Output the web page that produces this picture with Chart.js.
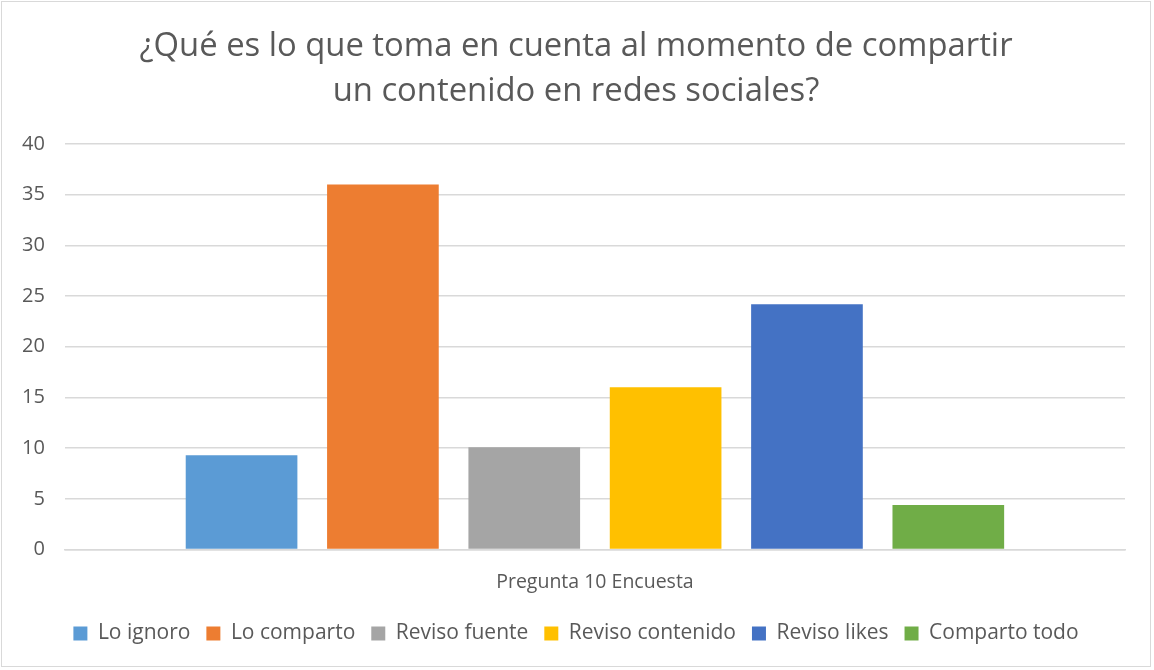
<!DOCTYPE html>
<html lang="es">
<head>
    <meta charset="UTF-8">
    <title>Pregunta 10 Encuesta</title>
    <script src="https://cdn.jsdelivr.net/npm/chart.js"></script>
<style>
    html, body {
        margin: 0;
        padding: 0;
        background: #ffffff;
    }
    /* marco gris alrededor del grafico */
    .frame {
        position: absolute;
        left: 1px;
        top: 1px;
        width: 1150px;
        height: 666px;
        border: 1px solid #d9d9d9;
        box-sizing: border-box;
    }
    .frame canvas {
        position: absolute;
        left: 0;
        top: 0;
    }
</style>
</head>
<body>
<div class="frame">
    <canvas id="myChart" width="1148" height="664"></canvas>
</div>

<script>
// datos
const categorias = ['Pregunta 10 Encuesta'];
const series = ['Lo ignoro', 'Lo comparto', 'Reviso fuente', 'Reviso contenido', 'Reviso likes', 'Comparto todo'];
const valores = [9.3, 36, 10.1, 16, 24.2, 4.4];
const colores = ['#5b9bd5', '#ed7d31', '#a5a5a5', '#ffc000', '#4472c4', '#70ad47'];
const titulo = ['¿Qué es lo que toma en cuenta al momento de compartir', 'un contenido en redes sociales?'];

const fuente = "'Open Sans', sans-serif";
const gris = '#595959';

const datasets = series.map((nombre, i) => ({
    label: nombre,
    data: [valores[i]],
    backgroundColor: colores[i],
    borderWidth: 0,
    categoryPercentage: 0.8,
    barPercentage: 0.79
}));

const ctx = document.getElementById('myChart').getContext('2d');
new Chart(ctx, {
    type: 'bar',
    data: {
        labels: categorias,
        datasets: datasets
    },
    options: {
        responsive: false,
        animation: false,
        layout: {
            padding: { left: 0, right: 0, top: 14, bottom: 12 }
        },
        plugins: {
            title: {
                display: true,
                text: titulo,
                color: gris,
                font: { family: fuente, size: 32.8, weight: 'normal', lineHeight: 1.37 },
                padding: { top: 8, bottom: 30 }
            },
            legend: {
                position: 'bottom',
                labels: {
                    color: gris,
                    font: { family: fuente, size: 21 },
                    boxWidth: 14,
                    boxHeight: 14,
                    padding: 16
                }
            },
            tooltip: { enabled: false }
        },
        scales: {
            x: {
                grid: { display: false },
                border: { color: '#d9d9d9', width: 1.5 },
                ticks: {
                    color: gris,
                    font: { family: fuente, size: 19.5 },
                    padding: 13
                }
            },
            y: {
                min: 0,
                max: 40,
                ticks: {
                    stepSize: 5,
                    color: gris,
                    font: { family: fuente, size: 20 },
                    padding: 20
                },
                grid: { color: '#d9d9d9', lineWidth: 1.5, drawTicks: false },
                border: { display: false }
            },
            // eje vacio a la derecha, solo para dejar margen sin mover el titulo
            margen: {
                type: 'linear',
                position: 'right',
                ticks: { display: false },
                grid: { display: false },
                border: { display: false },
                afterFit: (scale) => { scale.width = 25; }
            }
        }
    }
});
</script>
</body>
</html>
